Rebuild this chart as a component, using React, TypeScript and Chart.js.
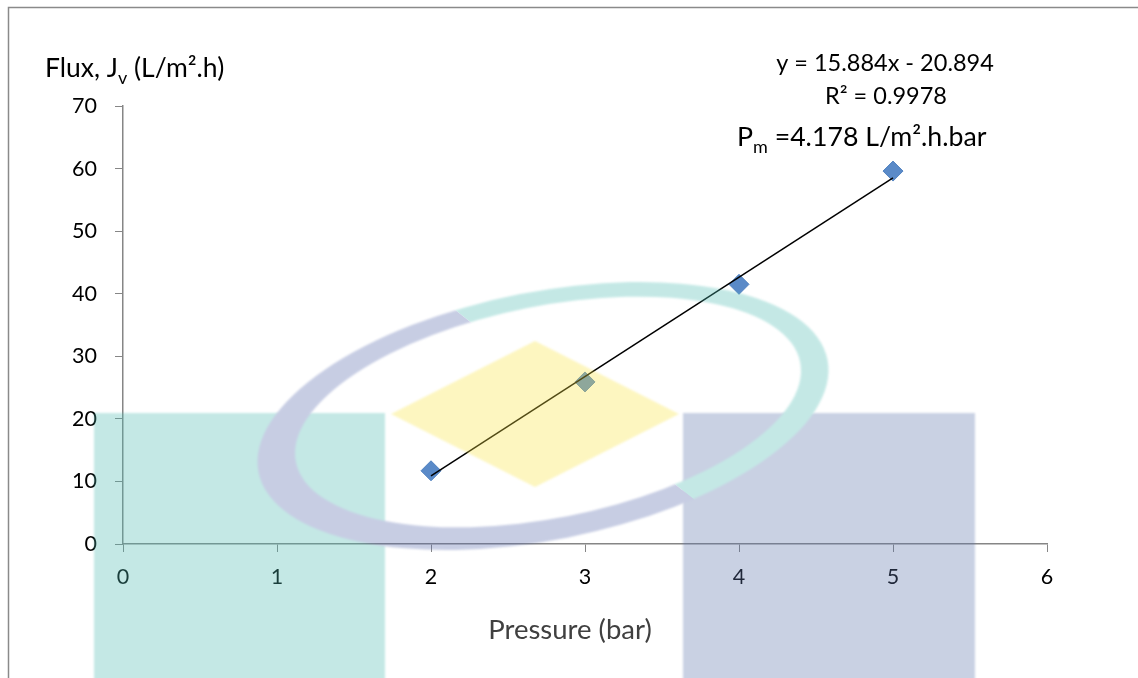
import { useEffect, useRef } from 'react';
import { Chart, registerables } from 'chart.js';

Chart.register(...registerables);

// Measured permeate flux at each transmembrane pressure
const pressureBar = [2, 3, 4, 5];
const fluxLm2h = [11.7, 25.9, 41.5, 59.6];

// Linear fit reported for the series
const fitSlope = 15.884;
const fitIntercept = -20.894;
const fitR2 = 0.9978;
const permeability = 4.178;

// Axis ranges and tick steps
const xRange = [0, 6];
const xStep = 1;
const yRange = [0, 70];
const yStep = 10;

const FONT = 'Lato, "Open Sans", "DejaVu Sans", sans-serif';
const W = 1138;
const H = 678;

type Run = { text: string; sub?: boolean };

function drawRuns(
  ctx: CanvasRenderingContext2D,
  runs: Run[],
  x: number,
  baseline: number,
  size: number,
  color: string,
  align: 'left' | 'center'
) {
  const fontOf = (r: Run) => `${r.sub ? Math.round(size * 0.68) : size}px ${FONT}`;
  const widths = runs.map((r) => {
    ctx.font = fontOf(r);
    return ctx.measureText(r.text).width;
  });
  const total = widths.reduce((a, b) => a + b, 0);
  let cx = align === 'center' ? x - total / 2 : x;
  ctx.fillStyle = color;
  ctx.textAlign = 'left';
  ctx.textBaseline = 'alphabetic';
  runs.forEach((r, i) => {
    ctx.font = fontOf(r);
    ctx.fillText(r.text, cx, baseline + (r.sub ? size * 0.26 : 0));
    cx += widths[i];
  });
}

// University emblem printed faintly across the figure
function makeEmblem(): HTMLCanvasElement {
  const c = document.createElement('canvas');
  c.width = W;
  c.height = H;
  const g = c.getContext('2d') as CanvasRenderingContext2D;
  g.filter = 'blur(1px)';

  g.fillStyle = 'rgb(79,188,179)';
  g.fillRect(94, 413, 291, 270);
  g.fillStyle = 'rgb(94,118,173)';
  g.fillRect(683, 413, 292, 270);

  g.fillStyle = 'rgb(249,228,67)';
  g.beginPath();
  g.moveTo(535, 341);
  g.lineTo(679, 414);
  g.lineTo(535, 487);
  g.lineTo(391, 414);
  g.closePath();
  g.fill();

  const rot = -0.195;
  const ring = new Path2D();
  ring.ellipse(543, 416, 290, 124, rot, 0, Math.PI * 2);
  const inner = new Path2D();
  inner.ellipse(548, 412, 257, 106, rot, 0, Math.PI * 2);
  ring.addPath(inner);

  g.save();
  g.beginPath();
  g.moveTo(-150, -170);
  g.lineTo(1300, 980);
  g.lineTo(1300, -170);
  g.closePath();
  g.clip();
  g.fillStyle = 'rgb(79,188,179)';
  g.fill(ring, 'evenodd');
  g.restore();

  g.save();
  g.beginPath();
  g.moveTo(-150, -170);
  g.lineTo(1300, 980);
  g.lineTo(-150, 980);
  g.closePath();
  g.clip();
  g.fillStyle = 'rgb(88,106,173)';
  g.fill(ring, 'evenodd');
  g.restore();
  return c;
}

const decorPlugin = {
  id: 'decor',
  beforeDraw(chart: Chart) {
    const ctx = chart.ctx;
    ctx.save();
    ctx.fillStyle = '#ffffff';
    ctx.fillRect(0, 0, chart.width, chart.height);
    ctx.strokeStyle = '#8a8a8a';
    ctx.lineWidth = 1.5;
    ctx.beginPath();
    ctx.moveTo(8.5, chart.height);
    ctx.lineTo(8.5, 7.5);
    ctx.lineTo(chart.width, 7.5);
    ctx.stroke();
    ctx.restore();
  },
  afterDatasetsDraw(chart: Chart) {
    const ctx = chart.ctx;
    ctx.save();
    drawRuns(
      ctx,
      [{ text: 'Flux, J' }, { text: 'v', sub: true }, { text: ' (L/m².h)' }],
      45,
      77,
      26.5,
      '#000000',
      'left'
    );
    drawRuns(ctx, [{ text: 'Pressure (bar)' }], 570, 639, 27.5, '#404040', 'center');
    const sign = fitIntercept < 0 ? '-' : '+';
    drawRuns(
      ctx,
      [{ text: `y = ${fitSlope}x ${sign} ${Math.abs(fitIntercept)}` }],
      885,
      71,
      23.5,
      '#000000',
      'center'
    );
    drawRuns(ctx, [{ text: `R² = ${fitR2}` }], 886, 104, 23.5, '#000000', 'center');
    drawRuns(
      ctx,
      [{ text: 'P' }, { text: 'm', sub: true }, { text: ` =${permeability} L/m².h.bar` }],
      737,
      146,
      26.7,
      '#000000',
      'left'
    );
    ctx.restore();
  },
  afterDraw(chart: Chart) {
    const ctx = chart.ctx;
    ctx.save();
    ctx.globalAlpha = 0.33;
    ctx.drawImage(makeEmblem(), 0, 0);
    ctx.restore();
  },
};

export default function App() {
  const canvasRef = useRef<HTMLCanvasElement | null>(null);

  useEffect(() => {
    const canvas = canvasRef.current;
    if (!canvas) return;
    const fitAt = (x: number) => fitSlope * x + fitIntercept;
    const xFirst = Math.min(...pressureBar);
    const xLast = Math.max(...pressureBar);
    const axisGrey = '#868686';
    const tickFont = { family: FONT, size: 21.5 };

    const chart = new Chart(canvas, {
      type: 'scatter',
      data: {
        datasets: [
          {
            type: 'line',
            label: 'Linear fit',
            data: [
              { x: xFirst, y: fitAt(xFirst) },
              { x: xLast, y: fitAt(xLast) },
            ],
            borderColor: '#000000',
            borderWidth: 1.5,
            pointRadius: 0,
            fill: false,
          },
          {
            type: 'scatter',
            label: 'Flux',
            data: pressureBar.map((p, i) => ({ x: p, y: fluxLm2h[i] })),
            pointStyle: 'rectRot',
            pointRadius: 10,
            backgroundColor: '#5a8ac8',
            borderColor: '#5182c0',
            borderWidth: 1,
          },
        ],
      },
      options: {
        responsive: false,
        animation: false,
        devicePixelRatio: 1,
        layout: { padding: { left: 0, top: 106, right: 91, bottom: 0 } },
        plugins: {
          legend: { display: false },
          tooltip: { enabled: false },
          title: { display: false },
        },
        scales: {
          x: {
            type: 'linear',
            min: xRange[0],
            max: xRange[1],
            ticks: { stepSize: xStep, color: '#000000', font: tickFont, padding: 12 },
            grid: { drawOnChartArea: false, drawTicks: true, tickLength: 8, color: axisGrey },
            border: { display: true, color: axisGrey, width: 1.5 },
            afterFit: (scale: any) => {
              scale.height = 134;
            },
          },
          y: {
            type: 'linear',
            min: yRange[0],
            max: yRange[1],
            ticks: { stepSize: yStep, color: '#000000', font: tickFont, padding: 18 },
            grid: { drawOnChartArea: false, drawTicks: true, tickLength: 8, color: axisGrey },
            border: { display: true, color: axisGrey, width: 1.5 },
            afterFit: (scale: any) => {
              scale.width = 123;
            },
          },
        },
      },
      plugins: [decorPlugin],
    });
    return () => chart.destroy();
  }, []);

  return (
    <div style={{ position: 'absolute', left: 0, top: 0, width: W, height: H }}>
      <canvas ref={canvasRef} width={W} height={H} />
    </div>
  );
}
